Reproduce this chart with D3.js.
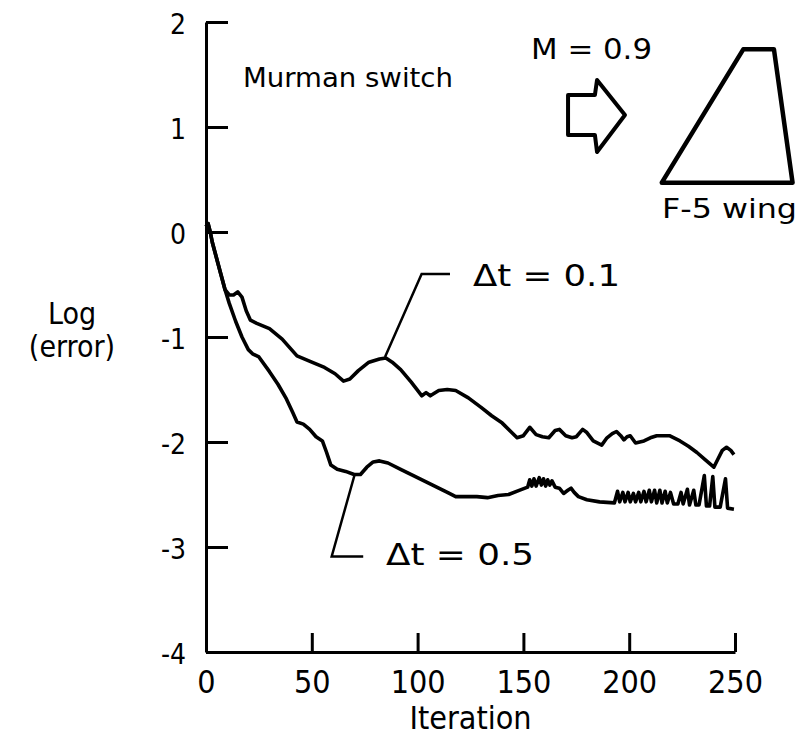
<!DOCTYPE html>
<html lang="en">
<head>
<meta charset="UTF-8">
<title>Log error vs iteration</title>
<script src="https://d3js.org/d3.v7.min.js"></script>
<style>
  body { margin: 0; background: #fff; }
  text { font-family: "DejaVu Sans Condensed", "DejaVu Sans", sans-serif; fill: #000; }
</style>
</head>
<body>
<script>
// Δt = 0.1 curve: [iteration, log(error)]
const dt01 = [[0,0.05],[1,0.08],[2,0.0],[3,-0.1],[5,-0.25],[7,-0.4],[9,-0.55],[11,-0.6],[13,-0.6],[15,-0.57],[17,-0.62],[19,-0.75],[21,-0.84],[24,-0.87],[30,-0.92],[36,-1.02],[43,-1.18],[50,-1.24],[56,-1.29],[61,-1.35],[65,-1.42],[68,-1.40],[72,-1.32],[77,-1.24],[82,-1.21],[85,-1.2],[88,-1.24],[92,-1.31],[97,-1.43],[102,-1.56],[104,-1.53],[106,-1.56],[110,-1.51],[114,-1.50],[118,-1.51],[124,-1.58],[130,-1.67],[135,-1.75],[140,-1.82],[144,-1.9],[147,-1.96],[150,-1.94],[153,-1.86],[156,-1.93],[159,-1.95],[162,-1.96],[165,-1.89],[167,-1.88],[170,-1.94],[173,-1.96],[175,-1.95],[178,-1.88],[180,-1.91],[183,-1.99],[187,-2.03],[189.5,-1.96],[192,-1.92],[194,-1.90],[196,-1.94],[197.5,-1.98],[199,-1.95],[200.5,-1.94],[203,-2.01],[207,-1.99],[210,-1.96],[213,-1.94],[219,-1.94],[224,-1.99],[228,-2.04],[232,-2.1],[236,-2.17],[240,-2.24],[242,-2.16],[244,-2.08],[246,-2.05],[248,-2.08],[249.5,-2.12]];

// Δt = 0.5 curve
const dt05 = [[0,0.05],[1,0.08],[2,0.0],[3,-0.1],[5,-0.25],[7,-0.4],[9,-0.55],[11,-0.68],[14,-0.85],[17,-1.0],[20,-1.12],[22,-1.16],[25,-1.19],[30,-1.33],[34,-1.45],[38,-1.59],[41,-1.72],[43,-1.81],[46,-1.83],[49,-1.88],[52,-1.95],[55,-1.99],[57,-2.1],[59,-2.22],[62,-2.26],[66,-2.28],[70,-2.31],[73,-2.31],[76,-2.24],[79,-2.19],[82,-2.18],[86,-2.20],[92,-2.26],[98,-2.32],[104,-2.38],[110,-2.44],[115,-2.49],[118,-2.52],[123,-2.52],[128,-2.52],[133,-2.53],[138,-2.51],[143,-2.50],[148,-2.46],[152,-2.43],
  [153,-2.36],[154,-2.42],[155,-2.35],[156,-2.42],[157.5,-2.34],[158.5,-2.41],[159.5,-2.35],[160.5,-2.42],[161.5,-2.36],[162.5,-2.41],[163.5,-2.37],[165,-2.43],[167,-2.44],[169,-2.49],[171,-2.46],[172.5,-2.44],[174,-2.48],[176,-2.52],[180,-2.55],[186,-2.57],[193,-2.58],
  [194.5,-2.47],[195.5,-2.57],[197,-2.48],[198,-2.57],[199.5,-2.48],[200.5,-2.57],[202,-2.49],[203,-2.57],[204.5,-2.48],[205.5,-2.57],[207,-2.47],[208,-2.57],[209.5,-2.46],[210.5,-2.57],[212,-2.46],[213,-2.58],[214.5,-2.46],[215.5,-2.58],[217,-2.47],[218,-2.58],[219.5,-2.48],[221,-2.59],[223,-2.59],[224.5,-2.48],[225.5,-2.59],[227.5,-2.45],[228.5,-2.6],[230.5,-2.46],[231.5,-2.6],[233,-2.6],[235.5,-2.32],[236.5,-2.61],[238,-2.61],[239.5,-2.33],[240.5,-2.62],[243,-2.62],[245.5,-2.35],[246.5,-2.63],[249.5,-2.64]];

const xTicks = [0, 50, 100, 150, 200, 250];
const yTicks = [2, 1, 0, -1, -2, -3, -4];

// leader lines from curves to their labels (data units)
const leader01 = [[84.6,-1.19],[101.9,-0.4],[115.3,-0.4]];
const leader05 = [[70.4,-2.30],[59.4,-3.09],[74.3,-3.09]];

// inset sketch: flow arrow and F-5 wing planform (data units)
const arrowShape = [[171.1,1.305],[183.8,1.305],[184.8,1.448],[198.0,1.114],[184.8,0.762],[183.8,0.924],[171.1,0.924]];
const wingShape = [[215.4,0.47],[253.9,1.74],[268.4,1.74],[277.2,0.47]];

const width = 801, height = 742;

const svg = d3.select('body')
  .append('svg')
  .attr('width', width)
  .attr('height', height);

const x = d3.scaleLinear().domain([0, 250]).range([206, 735]);
const y = d3.scaleLinear().domain([-4, 2]).range([652, 22]);

const line = d3.line().x(d => x(d[0])).y(d => y(d[1]));

// Y axis, ticks pointing into the plot
const yAxis = svg.append('g')
  .attr('transform', `translate(${x(0)},0)`)
  .call(d3.axisLeft(y).tickValues(yTicks).tickSizeInner(-22).tickSizeOuter(0).tickPadding(20)
    .tickFormat(d => d < 0 ? '-' + Math.abs(d) : d));
yAxis.select('.domain').attr('stroke-width', 3);
yAxis.selectAll('.tick line').attr('stroke-width', 3);
yAxis.selectAll('.tick text').attr('font-size', 28).attr('dy', '0.4em').attr('x', -20);

// X axis, ticks pointing up
const xAxis = svg.append('g')
  .attr('transform', `translate(0,${y(-4)})`)
  .call(d3.axisBottom(x).tickValues(xTicks).tickSizeInner(-19).tickSizeOuter(0).tickPadding(18));
xAxis.select('.domain').attr('stroke-width', 3);
xAxis.selectAll('.tick line').attr('stroke-width', 3);
xAxis.selectAll('.tick text').attr('font-size', 32);

svg.append('text')
  .attr('x', x(125)).attr('y', 729)
  .attr('text-anchor', 'middle')
  .attr('font-size', 32)
  .text('Iteration');

svg.append('text')
  .attr('x', 72).attr('y', 324)
  .attr('text-anchor', 'middle')
  .attr('font-size', 30)
  .text('Log');
svg.append('text')
  .attr('x', 72).attr('y', 357)
  .attr('text-anchor', 'middle')
  .attr('font-size', 30)
  .text('(error)');

// curves
[dt01, dt05].forEach(s => {
  svg.append('path')
    .datum(s)
    .attr('d', line)
    .attr('fill', 'none')
    .attr('stroke', '#000')
    .attr('stroke-width', 3.6)
    .attr('stroke-linejoin', 'round');
});

[leader01, leader05].forEach(s => {
  svg.append('path')
    .datum(s)
    .attr('d', line)
    .attr('fill', 'none')
    .attr('stroke', '#000')
    .attr('stroke-width', 2.5);
});

svg.append('text').attr('x', 473).attr('y', 286).attr('font-size', 30)
  .attr('textLength', 147).attr('lengthAdjust', 'spacingAndGlyphs')
  .text('\u0394t = 0.1');
svg.append('text').attr('x', 386).attr('y', 565).attr('font-size', 30)
  .attr('textLength', 148).attr('lengthAdjust', 'spacingAndGlyphs')
  .text('\u0394t = 0.5');

svg.append('text').attr('x', 243).attr('y', 87).attr('font-size', 27)
  .attr('textLength', 210).attr('lengthAdjust', 'spacingAndGlyphs')
  .text('Murman switch');
svg.append('text').attr('x', 531).attr('y', 59).attr('font-size', 29)
  .attr('textLength', 121).attr('lengthAdjust', 'spacingAndGlyphs')
  .text('M = 0.9');
svg.append('text').attr('x', 662).attr('y', 218).attr('font-size', 27)
  .attr('textLength', 135).attr('lengthAdjust', 'spacingAndGlyphs')
  .text('F-5 wing');

const polyLine = d3.line().x(d => x(d[0])).y(d => y(d[1])).curve(d3.curveLinearClosed);

svg.append('path')
  .datum(arrowShape)
  .attr('d', polyLine)
  .attr('fill', 'none')
  .attr('stroke', '#000')
  .attr('stroke-width', 4)
  .attr('stroke-linejoin', 'round');

svg.append('path')
  .datum(wingShape)
  .attr('d', polyLine)
  .attr('fill', 'none')
  .attr('stroke', '#000')
  .attr('stroke-width', 4.5)
  .attr('stroke-linejoin', 'round');
</script>
</body>
</html>
